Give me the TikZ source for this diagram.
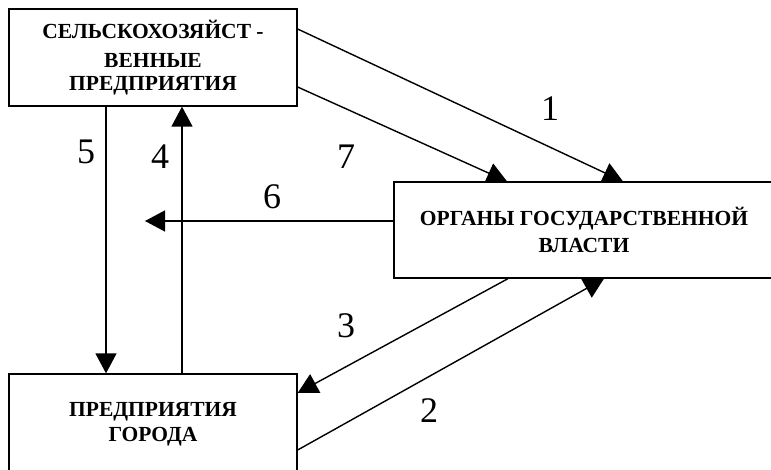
\documentclass[tikz,border=0pt]{standalone}
\usepackage{fontspec}
\setmainfont{Liberation Serif}
\usetikzlibrary{arrows.meta}
\tikzset{
  box/.style={draw, line width=1.3pt, fill=white, rectangle, inner sep=0pt,
    minimum width=288pt, minimum height=97pt, align=center,
    font=\bfseries\fontsize{21.5}{22.4}\selectfont},
  arr/.style={line width=1.4pt, -{Triangle[length=20pt,width=21pt]}},
  num/.style={inner sep=0pt, font=\fontsize{36}{40}\selectfont}
}
\begin{document}
\begin{tikzpicture}[x=1pt,y=-1pt]
\useasboundingbox (0,0) rectangle (771,469);
\fill[white] (0,0) rectangle (771,469);
\clip (0,0) rectangle (771,469);
\node[box] (top) at (153,57.5) {СЕЛЬСКОХОЗЯЙСТ -\\[6.6pt]ВЕННЫЕ\\ПРЕДПРИЯТИЯ};
\node[box, minimum width=380pt, minimum height=96pt] (gov) at (584,230) {ОРГАНЫ ГОСУДАРСТВЕННОЙ\\[4.3pt]ВЛАСТИ};
\node[box, minimum height=100pt] (bot) at (153,424) {ПРЕДПРИЯТИЯ\\[2.6pt]ГОРОДА};
\coordinate (c6) at (145,221);
% connectors
\draw[arr] ([yshift=28.5pt]top.east) -- ([xshift=39pt]gov.north);
\draw[arr] ([yshift=-29.5pt]top.east) -- ([xshift=-77pt]gov.north);
\draw[arr] ([xshift=-47pt]top.south) -- ([xshift=-47pt]bot.north);
\draw[arr] ([xshift=29pt]bot.north) -- ([xshift=29pt]top.south);
\draw[arr] ([yshift=9pt]gov.west) -- (c6);
\draw[arr] ([xshift=-76pt]gov.south) -- ([yshift=31pt]bot.east);
\draw[arr] ([yshift=-26pt]bot.east) -- ([xshift=20pt]gov.south);
% labels
\node[num] (n1) at (550,109) {1};
\node[num] (n2) at (429,411) {2};
\node[num] (n3) at (346,326) {3};
\node[num] (n4) at (160,157) {4};
\node[num] (n5) at (86,152) {5};
\node[num] (n6) at (272,197) {6};
\node[num] (n7) at (346,157) {7};
\end{tikzpicture}
\end{document}
